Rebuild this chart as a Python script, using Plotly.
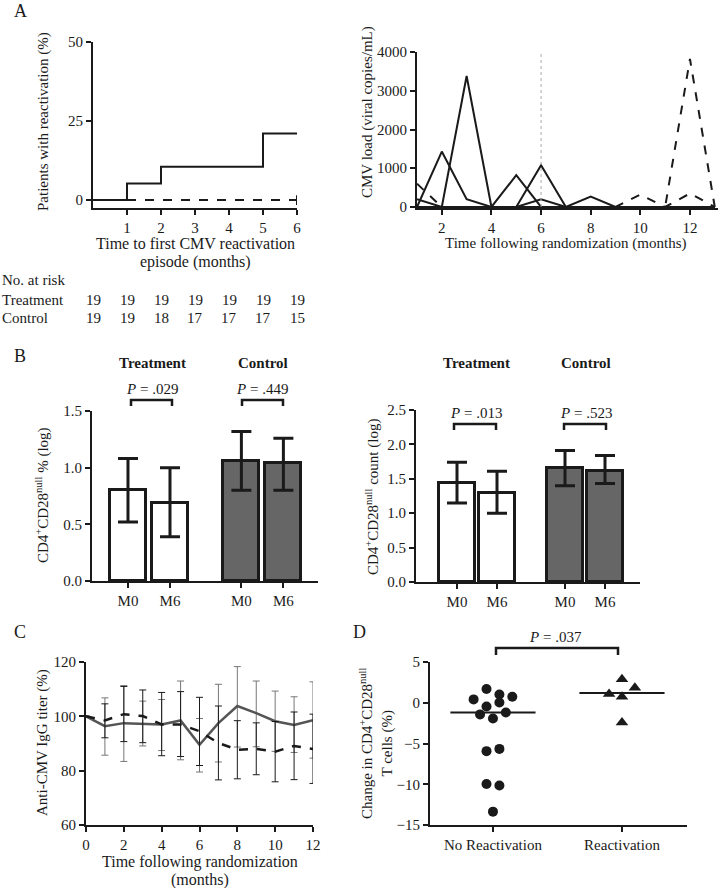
import numpy as np
import plotly.graph_objects as go

# ---------------- DATA ----------------
# Panel A (left): Kaplan-Meier cumulative reactivation (%)
km_months = [0, 1, 2, 5, 6]
km_control_pct = [0, 5.26, 10.53, 21.05, 21.05]
km_treatment_months = [1, 6]
km_treatment_pct = [0, 0]
risk_months = [0, 1, 2, 3, 4, 5, 6]
risk_treatment = [19, 19, 19, 19, 19, 19, 19]
risk_control = [19, 19, 18, 17, 17, 17, 15]

# Panel A (right): CMV load per patient episode (viral copies/mL)
load_months = list(range(1, 14))
load_solid_1 = [0, 1430, 200, 0, 0, 0, 0, 0, 0, 0, 0, 0, 0]
load_solid_2 = [200, 0, 3380, 0, 0, 0, 0, 0, 0, 0, 0, 0, 0]
load_solid_3 = [0, 0, 0, 0, 820, 0, 0, 0, 0, 0, 0, 0, 0]
load_solid_4 = [0, 0, 0, 0, 0, 1080, 0, 0, 0, 0, 0, 0, 0]
load_solid_5 = [0, 0, 0, 0, 0, 200, 0, 270, 0, 0, 0, 0, 0]
load_dash_1 = [600, 0, 0, 0, 0, 0, 0, 0, 0, 0, 0, 0, 0]
load_dash_2 = [0, 0, 0, 0, 0, 0, 0, 0, 0, 320, 0, 350, 0]
load_dash_3 = [0, 0, 0, 0, 0, 0, 0, 0, 0, 0, 0, 3820, 0]
randomization_marker = 6

# Panel B
bar_labels = ["M0", "M6", "M0", "M6"]
bar_pos_treat = [1, 2]
bar_pos_ctrl = [3.7, 4.7]
pct_treat = [0.80, 0.69]
pct_treat_up = [1.08, 1.00]
pct_treat_lo = [0.52, 0.39]
pct_ctrl = [1.06, 1.04]
pct_ctrl_up = [1.32, 1.26]
pct_ctrl_lo = [0.80, 0.80]
cnt_treat = [1.44, 1.30]
cnt_treat_up = [1.74, 1.61]
cnt_treat_lo = [1.15, 1.00]
cnt_ctrl = [1.66, 1.62]
cnt_ctrl_up = [1.91, 1.84]
cnt_ctrl_lo = [1.40, 1.43]

# Panel C: anti-CMV IgG titer (%)
igg_months = list(range(0, 13))
igg_grey = [100, 96.4, 97.5, 97.3, 97.0, 98.5, 89.5, 97.5, 103.8, 101.2, 98.2, 96.8, 98.6]
igg_grey_up = [100, 106.8, 111.3, 105.6, 106.2, 113.0, 99.2, 111.8, 118.3, 113.0, 109.3, 107.2, 112.7]
igg_grey_lo = [100, 85.7, 83.4, 89.1, 87.4, 84.0, 79.5, 83.2, 88.7, 88.8, 87.1, 86.7, 84.6]
igg_black = [100, 98.5, 100.8, 100.1, 97.0, 97.0, 94.5, 90.2, 87.7, 88.0, 87.0, 89.1, 88.0]
igg_black_up = [100, 104.6, 111.0, 109.7, 108.8, 109.1, 107.0, 103.8, 98.4, 97.6, 98.1, 101.6, 100.8]
igg_black_lo = [100, 92.1, 90.7, 90.3, 85.5, 85.2, 81.9, 76.6, 77.0, 78.5, 75.9, 76.7, 75.3]

# Panel D: change in CD4+CD28null T cells (%)
d_groups = ["No Reactivation", "Reactivation"]
no_react = [1.68, 1.02, 0.41, 0.74, 0.04, -0.45, -1.19, -1.43, -1.93, -5.94, -5.66, -9.96, -10.16, -13.36]
no_react_jitter = [-0.05, 0.05, -0.15, 0.15, 0.05, -0.05, 0.1, -0.1, 0, -0.05, 0.05, -0.05, 0.05, 0]
react = [2.87, 1.84, 1.07, 0.74, -2.42]
react_jitter = [0, 0.1, -0.1, 0, 0]
d_medians = [-1.2, 1.2]

# ---------------- HELPERS ----------------
W, H = 720, 888
FONT = "Liberation Serif"
INK = "#1a1a1a"
FS = 15


def px(x):
    return x / W


def py(y):
    return 1 - y / H


def axis_style(**kw):
    d = dict(showgrid=False, zeroline=False, showline=True, linecolor=INK, linewidth=2,
             ticks="outside", ticklen=5, tickwidth=2, tickcolor=INK, automargin=False,
             tickfont=dict(family=FONT, size=FS, color=INK), fixedrange=True)
    d.update(kw)
    return d


fig = go.Figure()

# ---------- Panel A left ----------
fig.add_trace(go.Scatter(x=km_treatment_months, y=km_treatment_pct, mode="lines",
                         line=dict(color=INK, width=2, dash="dash"), xaxis="x", yaxis="y"))
fig.add_trace(go.Scatter(x=km_months, y=km_control_pct, mode="lines", line_shape="hv",
                         line=dict(color=INK, width=2), xaxis="x", yaxis="y"))
fig.add_trace(go.Scatter(x=[km_treatment_months[-1]], y=[km_treatment_pct[-1]], mode="markers",
                         marker=dict(symbol="line-ns", size=7, line=dict(color=INK, width=2)),
                         xaxis="x", yaxis="y"))

# ---------- Panel A right ----------
for ser in [load_dash_1, load_dash_2, load_dash_3]:
    fig.add_trace(go.Scatter(x=load_months, y=ser, mode="lines",
                             line=dict(color=INK, width=2, dash="dash"), xaxis="x2", yaxis="y2"))
for ser in [load_solid_1, load_solid_2, load_solid_3, load_solid_4, load_solid_5]:
    fig.add_trace(go.Scatter(x=load_months, y=ser, mode="lines",
                             line=dict(color=INK, width=2), xaxis="x2", yaxis="y2"))


# ---------- Panel B ----------
def bars(xs, ys, up, lo, fill, xa, ya, width):
    ys = np.array(ys)
    fig.add_trace(go.Bar(x=xs, y=ys, width=width, marker=dict(color=fill, line=dict(color=INK, width=3)),
                         error_y=dict(type="data", symmetric=False, array=np.array(up) - ys,
                                      arrayminus=ys - np.array(lo), color=INK, thickness=3, width=10),
                         xaxis=xa, yaxis=ya))


bars(bar_pos_treat, pct_treat, pct_treat_up, pct_treat_lo, "white", "x3", "y3", 0.86)
bars(bar_pos_ctrl, pct_ctrl, pct_ctrl_up, pct_ctrl_lo, "#666666", "x3", "y3", 0.86)
bars(bar_pos_treat, cnt_treat, cnt_treat_up, cnt_treat_lo, "white", "x4", "y4", 0.9)
bars(bar_pos_ctrl, cnt_ctrl, cnt_ctrl_up, cnt_ctrl_lo, "#666666", "x4", "y4", 0.9)


# ---------- Panel C ----------
def igg(center, up, lo, line_color, bar_color, dash):
    c = np.array(center)
    fig.add_trace(go.Scatter(x=igg_months, y=c, mode="lines",
                             line=dict(color=line_color, width=2.5, dash=dash),
                             error_y=dict(type="data", symmetric=False, array=np.array(up) - c,
                                          arrayminus=c - np.array(lo), color=bar_color,
                                          thickness=1, width=3.5),
                             xaxis="x5", yaxis="y5"))


igg(igg_grey, igg_grey_up, igg_grey_lo, "#555555", "#777777", "solid")
igg(igg_black, igg_black_up, igg_black_lo, INK, INK, "dash")

# ---------- Panel D ----------
fig.add_trace(go.Scatter(x=1 + np.array(no_react_jitter), y=no_react, mode="markers",
                         marker=dict(symbol="circle", size=10, color=INK), xaxis="x6", yaxis="y6"))
fig.add_trace(go.Scatter(x=2 + np.array(react_jitter), y=react, mode="markers",
                         marker=dict(symbol="triangle-up", size=11, color=INK), xaxis="x6", yaxis="y6"))
for i, m in enumerate(d_medians):
    fig.add_trace(go.Scatter(x=[i + 1 - 0.33, i + 1 + 0.33], y=[m, m], mode="lines",
                             line=dict(color=INK, width=2), xaxis="x6", yaxis="y6"))

# ---------------- LAYOUT ----------------
fig.update_layout(
    template="none",
    width=W, height=H, margin=dict(l=0, r=0, t=0, b=0, pad=0, autoexpand=False),
    paper_bgcolor="white", plot_bgcolor="white", showlegend=False,
    font=dict(family=FONT, size=FS, color=INK), bargap=0,
    xaxis=axis_style(domain=[px(93), px(297)], range=[0, 6], tickvals=[1, 2, 3, 4, 5, 6], anchor="y"),
    yaxis=axis_style(domain=[py(208), py(42)], range=[-2.5, 50], tickvals=[0, 25, 50], anchor="x"),
    xaxis2=axis_style(domain=[px(417), px(718)], range=[1, 13.13], tickvals=[2, 4, 6, 8, 10, 12], anchor="y2"),
    yaxis2=axis_style(domain=[py(208), py(52)], range=[-26, 4000], tickvals=[0, 1000, 2000, 3000, 4000], anchor="x2"),
    xaxis3=axis_style(domain=[px(92), px(318)], range=[0.143, 5.524], tickvals=bar_pos_treat + bar_pos_ctrl,
                      ticktext=bar_labels, anchor="y3"),
    yaxis3=axis_style(domain=[py(581), py(411)], range=[0, 1.5], tickvals=[0, 0.5, 1.0, 1.5],
                      tickformat=".1f", anchor="x3"),
    xaxis4=axis_style(domain=[px(416), px(640)], range=[-0.025, 5.575], tickvals=bar_pos_treat + bar_pos_ctrl,
                      ticktext=bar_labels, anchor="y4"),
    yaxis4=axis_style(domain=[py(582), py(410)], range=[0, 2.5], tickvals=[0, 0.5, 1.0, 1.5, 2.0, 2.5],
                      tickformat=".1f", anchor="x4"),
    xaxis5=axis_style(domain=[px(86), px(313)], range=[0, 12], tickvals=[0, 2, 4, 6, 8, 10, 12], anchor="y5"),
    yaxis5=axis_style(domain=[py(825), py(662)], range=[60, 120], tickvals=[60, 80, 100, 120], anchor="x5"),
    xaxis6=axis_style(domain=[px(430), px(687)], range=[0.512, 2.504], tickvals=[1, 2], ticktext=d_groups,
                      anchor="y6"),
    yaxis6=axis_style(domain=[py(825), py(662)], range=[-15, 5], tickvals=[-15, -10, -5, 0, 5], anchor="x6"),
)

shapes = []
# dotted randomization marker in A right
shapes.append(dict(type="line", xref="x2", yref="y2", x0=randomization_marker, x1=randomization_marker,
                   y0=0, y1=4000, line=dict(color="#aaaaaa", width=1, dash="dot")))


def bracket(x0, x1, ytop, ybot):
    shapes.append(dict(type="path", xref="paper", yref="paper",
                       path=f"M {px(x0)},{py(ybot)} L {px(x0)},{py(ytop)} L {px(x1)},{py(ytop)} L {px(x1)},{py(ybot)}",
                       line=dict(color=INK, width=2.5)))


bracket(131, 172, 400, 406)
bracket(242, 283, 400, 406)
bracket(454, 496, 424, 430)
bracket(564, 606, 424, 430)
bracket(496, 618, 648, 655)
fig.update_layout(shapes=shapes)

ann = []


def text(x, y, s, size=FS, angle=0, xanchor="center", xref="paper", bold=False):
    if bold:
        s = f"<b>{s}</b>"
    ann.append(dict(x=x if xref != "paper" else px(x), y=py(y), xref=xref, yref="paper", text=s,
                    showarrow=False, textangle=angle, xanchor=xanchor, yanchor="middle",
                    font=dict(family=FONT, size=size, color=INK)))


# panel letters
text(20, 11, "A", size=18)
text(20, 356, "B", size=18)
text(20, 632, "C", size=18)
text(359, 632, "D", size=18)

# Panel A titles
text(43, 122, "Patients with reactivation (%)", angle=-90)
text(195, 243, "Time to first CMV reactivation", size=16)
text(195, 262, "episode (months)", size=16)
text(367, 112, "CMV load (viral copies/mL)", angle=-90)
text(566, 243, "Time following randomization (months)")

# at-risk table
text(0, 280, "No. at risk", xanchor="left")
text(0, 300, "Treatment", xanchor="left")
text(0, 318, "Control", xanchor="left")
for m, a, b in zip(risk_months, risk_treatment, risk_control):
    text(m, 300, str(a), xref="x")
    text(m, 318, str(b), xref="x")

# Panel B titles
text(152, 363, "Treatment", bold=True)
text(263, 363, "Control", bold=True)
text(476, 363, "Treatment", bold=True)
text(586, 363, "Control", bold=True)
text(152, 389, "<i>P</i> = .029")
text(262, 389, "<i>P</i> = .449")
text(476, 413, "<i>P</i> = .013")
text(586, 413, "<i>P</i> = .523")
text(42, 495, "CD4<sup>+</sup>CD28<sup>null</sup> % (log)", angle=-90)
text(372, 497, "CD4<sup>+</sup>CD28<sup>null</sup> count (log)", angle=-90)

# Panel C titles
text(42, 743, "Anti-CMV IgG titer (%)", angle=-90)
text(200, 862, "Time following randomization", size=16)
text(200, 880, "(months)", size=16)

# Panel D titles
text(555, 637, "<i>P</i> = .037")
text(376, 743, "Change in CD4<sup>+</sup>CD28<sup>null</sup><br>T cells (%)", angle=-90)

fig.update_layout(annotations=ann)

fig.write_html("out.html", config={"displayModeBar": False},
               post_script="document.body.style.margin='0';document.body.style.overflow='hidden';")
